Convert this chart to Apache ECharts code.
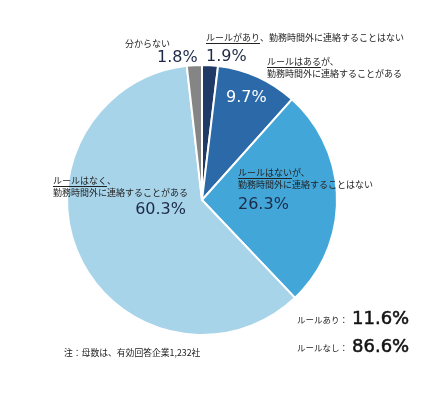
<!DOCTYPE html>
<html><head><meta charset="utf-8">
<script src="https://cdn.jsdelivr.net/npm/echarts@6/dist/echarts.min.js"></script>
<style>html,body{margin:0;padding:0;background:#fff}#c{width:428px;height:401px}</style>
</head><body><div id="c"></div>
<script>
// ---- data ----
const categories = ['ルールがあり、勤務時間外に連絡することはない','ルールはあるが、勤務時間外に連絡することがある','ルールはないが、勤務時間外に連絡することはない','ルールはなく、勤務時間外に連絡することがある','分からない'];
const values = [1.9, 9.7, 26.3, 60.3, 1.8];
const labelHead = ['ルールがあり','ルールはある','ルールはない','ルールはなく',''];
const labelTail1 = ['、勤務時間外に連絡することはない','が、','が、','、','分からない'];
const labelTail2 = ['','勤務時間外に連絡することがある','勤務時間外に連絡することはない','勤務時間外に連絡することがある',''];
const summaryLabels = ['ルールあり：','ルールなし：'];
const summaryValues = [11.6, 86.6];
const noteText = '注：母数は、有効回答企業1,232社';

// ---- styles ----
const colors = ['#1f3a66','#2b69a8','#43a6d8','#a8d4ea','#858585'];
const JP = "'Noto Sans CJK JP'";
const NUM = "'DejaVu Sans'";
const smallSize = 9;
const pctSize = 16;
const textColor = '#222';
const pctColors = ['#1c2a48','#ffffff','#1c2a48','#1c2a48','#1c2a48'];
const layout = [
  {x:206, y:38, px:206, py:57, pa:'left'},
  {x:267, y:62, px:226, py:98, pa:'left'},
  {x:238, y:173, px:238, py:205, pa:'left'},
  {x:53, y:181, px:186, py:210, pa:'right'},
  {x:125, y:44, px:157, py:58, pa:'left'}
];

const ctx = document.createElement('canvas').getContext('2d');
function tw(t, size){ ctx.font = size + 'px ' + JP; return ctx.measureText(t).width; }

const graphics = [];
function txt(t, x, y, size, fam, fill, align, extra){
  const st = {text:t, x:x, y:y, fontSize:size, fontFamily:fam, fill:fill, align:align||'left', verticalAlign:'middle'};
  if (extra) Object.assign(st, extra);
  graphics.push({type:'text', silent:true, z:100, style:st});
}
values.forEach(function(v,i){
  const L = layout[i];
  let x = L.x;
  if (labelHead[i]) {
    txt(labelHead[i], x, L.y, smallSize, JP, textColor);
    const w = tw(labelHead[i], smallSize);
    graphics.push({type:'line', silent:true, z:100, shape:{x1:x, y1:L.y+5.5, x2:x+w, y2:L.y+5.5}, style:{stroke:'#222', lineWidth:1}});
    x += w;
  }
  txt(labelTail1[i], x, L.y, smallSize, JP, textColor);
  if (labelTail2[i]) txt(labelTail2[i], L.x, L.y+12, smallSize, JP, textColor);
  txt(v.toFixed(1)+'%', L.px, L.py, pctSize, NUM, pctColors[i], L.pa);
});
summaryLabels.forEach(function(s,i){
  const y = 319 + i*28;
  txt(s, 297, y+1, 8.5, JP, textColor);
  txt(summaryValues[i].toFixed(1)+'%', 352, y, 18, NUM, '#111', 'left', {stroke:'#111', lineWidth:0.5});
});
txt(noteText, 64, 353, 8.8, JP, textColor);

const chart = echarts.init(document.getElementById('c'), null, {renderer:'canvas'});
chart.setOption({
  animation:false,
  backgroundColor:'#fff',
  color: colors,
  series:[{
    type:'pie',
    center:[202,200],
    radius:135,
    startAngle:90,
    clockwise:true,
    silent:true,
    label:{show:false},
    labelLine:{show:false},
    itemStyle:{borderColor:'#fff', borderWidth:2},
    data: values.map(function(v,i){ return {name:categories[i], value:v}; })
  }],
  graphic: graphics
});
</script></body></html>
